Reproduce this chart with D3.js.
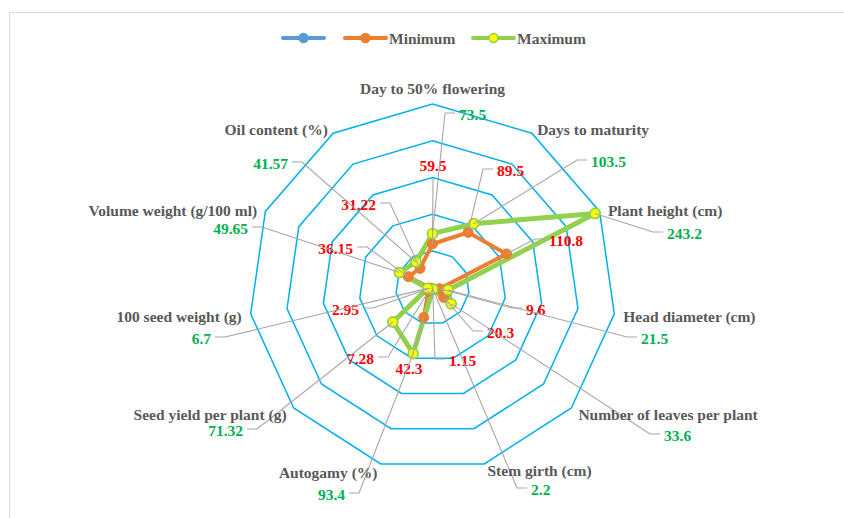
<!DOCTYPE html>
<html>
<head>
<meta charset="utf-8">
<script src="https://cdn.jsdelivr.net/npm/d3@7"></script>
<style>
  html, body { margin: 0; padding: 0; background: #fff; }
  svg { display: block; }
  text { font-family: "Liberation Serif", "Times New Roman", serif; font-weight: bold; }
</style>
</head>
<body>
<svg id="chart" width="844" height="518"></svg>
<script>
// ---------- data ----------
const categories = [
  "Day to 50% flowering", "Days to maturity", "Plant height (cm)", "Head diameter (cm)",
  "Number of leaves per plant", "Stem girth (cm)", "Autogamy (%)", "Seed yield per plant (g)",
  "100 seed weight (g)", "Volume weight (g/100 ml)", "Oil content (%)"
];
const seriesNames = ["", "Minimum", "Maximum"];
const minValues = [59.5, 89.5, 110.8, 9.6, 20.3, 1.15, 42.3, 7.28, 2.95, 36.15, 31.22];
const maxValues = [73.5, 103.5, 243.2, 21.5, 33.6, 2.2, 93.4, 71.32, 6.7, 49.65, 41.57];
const minLabels = ["59.5", "89.5", "110.8", "9.6", "20.3", "1.15", "42.3", "7.28", "2.95", "36.15", "31.22"];
const maxLabels = ["73.5", "103.5", "243.2", "21.5", "33.6", "2.2", "93.4", "71.32", "6.7", "49.65", "41.57"];
const gridValues = [50, 100, 150, 200, 250];

// ---------- layout (label elbows: x, y, side; side 1 = text right, -1 = text left, 0 = centred) ----------
const maxLabelLayout = [
  [445, 113, 1], [577, 160, 1], [653, 232, 1], [627, 337, 1], [650, 434, 1], [517, 488, 1],
  [359, 493, -1], [257, 429, -1], [225, 337, -1], [262, 227, -1], [302, 162, -1]
];
const minLabelLayout = [
  [433, 178, 0], [483, 169, 1], [535, 239, 1], [512, 308, 1], [473, 331, 1], [435, 359, 1],
  [412, 357, 0], [388, 357, -1], [373, 308, -1], [367, 247, -1], [390, 203, -1]
];
// per-category vertical nudges for axis labels
const categoryNudge = [0, 0, 0, 0, 0, -2, 0, 0, 0, 0, 0];

// ---------- setup ----------
const W = 844, H = 518;
const cx = 432.5, cy = 287.7, R = 183.7;
const svg = d3.select("#chart");
const n = categories.length;
const r = d3.scaleLinear().domain([0, 250]).range([0, R]);
const ang = d3.scaleLinear().domain([0, n]).range([0, 2 * Math.PI]);
const pt = (v, i) => [cx + r(v) * Math.sin(ang(i)), cy - r(v) * Math.cos(ang(i))];

const COLORS = { blue: "#5B9BD5", orange: "#ED7D31", green: "#92D050", grid: "#00B0F0",
                 text: "#595959", red: "#FF0000", vgreen: "#00B050", leader: "#A6A6A6" };

// chart border
svg.append("path")
  .attr("d", `M9.5,${H} L9.5,12.5 L${W},12.5`)
  .attr("fill", "none").attr("stroke", "#D9D9D9").attr("stroke-width", 1);

const g = svg.append("g").attr("transform", `translate(${cx},${cy})`);

const radial = d3.lineRadial()
  .angle((d, i) => ang(i))
  .radius(d => r(d))
  .curve(d3.curveLinearClosed);

// grid rings
g.selectAll("path.ring").data(gridValues).enter().append("path")
  .attr("class", "ring")
  .attr("d", v => radial(categories.map(() => v)))
  .attr("fill", "none").attr("stroke", COLORS.grid).attr("stroke-width", 1.5);

// series
g.append("path").attr("d", radial(minValues))
  .attr("fill", "none").attr("stroke", COLORS.orange).attr("stroke-width", 4).attr("stroke-linejoin", "round");
svg.selectAll("circle.min").data(minValues).enter().append("circle")
  .attr("cx", (d, i) => pt(d, i)[0]).attr("cy", (d, i) => pt(d, i)[1])
  .attr("r", 5).attr("fill", COLORS.orange).attr("stroke", COLORS.orange).attr("stroke-width", 1);

g.append("path").attr("d", radial(maxValues))
  .attr("fill", "none").attr("stroke", COLORS.green).attr("stroke-width", 5).attr("stroke-linejoin", "round");
svg.selectAll("circle.max").data(maxValues).enter().append("circle")
  .attr("cx", (d, i) => pt(d, i)[0]).attr("cy", (d, i) => pt(d, i)[1])
  .attr("r", 5).attr("fill", "#FFFF00").attr("stroke", COLORS.green).attr("stroke-width", 1.8);

// leaders and value labels
function drawLabels(values, labels, layout, color) {
  values.forEach((v, i) => {
    const p = pt(v, i);
    const [ex, ey, side] = layout[i];
    let pts = [p, [ex, ey]];
    if (side !== 0) pts.push([ex + side * 10, ey]);
    svg.append("path")
      .attr("d", d3.line()(pts))
      .attr("fill", "none").attr("stroke", COLORS.leader).attr("stroke-width", 1.1);
    const t = svg.append("text")
      .attr("fill", color).attr("font-size", "15.5px")
      .attr("dominant-baseline", "central")
      .text(labels[i]);
    if (side === 1) t.attr("x", ex + 14).attr("y", ey + 1).attr("text-anchor", "start");
    else if (side === -1) t.attr("x", ex - 14).attr("y", ey + 1).attr("text-anchor", "end");
    else {
      const above = ey < p[1];
      t.attr("x", ex - (above ? 0 : 3)).attr("y", above ? ey - 13 : ey + 11).attr("text-anchor", "middle");
    }
  });
}
drawLabels(minValues, minLabels, minLabelLayout, COLORS.red);
drawLabels(maxValues, maxLabels, maxLabelLayout, COLORS.vgreen);

// category labels
categories.forEach((c, i) => {
  const [vx, vy] = pt(250, i);
  const a = ang(i);
  const s = Math.sin(a), co = Math.cos(a);
  const t = svg.append("text").attr("fill", COLORS.text).attr("font-size", "15.5px")
    .attr("dominant-baseline", "central").text(c);
  if (Math.abs(s) < 0.01) {
    t.attr("x", vx).attr("y", vy - 16).attr("text-anchor", "middle");
  } else {
    t.attr("x", vx + s * 8 + Math.sign(s) * 1)
     .attr("y", vy - co * 7 + 2 + categoryNudge[i])
     .attr("text-anchor", s > 0 ? "start" : "end");
  }
});

// legend
const legendItems = [
  { name: seriesNames[0], color: COLORS.blue, fill: COLORS.blue, x: 283 },
  { name: seriesNames[1], color: COLORS.orange, fill: COLORS.orange, x: 345 },
  { name: seriesNames[2], color: COLORS.green, fill: "#FFFF00", x: 473 }
];
const ly = 38;
legendItems.forEach(it => {
  svg.append("line").attr("x1", it.x).attr("x2", it.x + 41).attr("y1", ly).attr("y2", ly)
    .attr("stroke", it.color).attr("stroke-width", 4).attr("stroke-linecap", "round");
  svg.append("circle").attr("cx", it.x + 20.5).attr("cy", ly).attr("r", 4.5)
    .attr("fill", it.fill).attr("stroke", it.color).attr("stroke-width", 1.5);
  if (it.name) {
    svg.append("text").attr("x", it.x + 44).attr("y", ly).attr("dominant-baseline", "central")
      .attr("fill", COLORS.text).attr("font-size", "15.5px").text(it.name);
  }
});
</script>
</body>
</html>
